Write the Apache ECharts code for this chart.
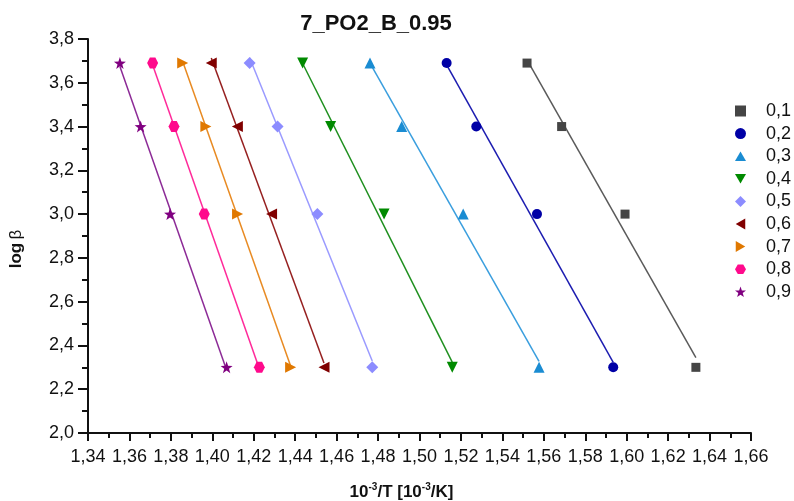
<!DOCTYPE html>
<html><head><meta charset="utf-8">
<script src="https://cdn.jsdelivr.net/npm/echarts@6/dist/echarts.min.js"></script>
<style>html,body{margin:0;padding:0;background:#fff}#c{width:794px;height:501px}</style>
</head><body><div id="c"></div>
<script>
const titleText = '7_PO2_B_0.95';
const seriesNames = ['0,1','0,2','0,3','0,4','0,5','0,6','0,7','0,8','0,9'];
const logBeta = [3.69, 3.40, 3.00, 2.30];
const x01 = [1.5519, 1.5686, 1.5992, 1.6334];
const x02 = [1.5131, 1.5274, 1.5567, 1.5935];
const x03 = [1.4761, 1.4914, 1.5211, 1.5577];
const x04 = [1.4436, 1.4571, 1.4829, 1.5158];
const x05 = [1.4180, 1.4315, 1.4507, 1.4772];
const x06 = [1.3995, 1.4121, 1.4286, 1.4539];
const x07 = [1.3857, 1.3969, 1.4122, 1.4378];
const x08 = [1.3712, 1.3815, 1.3961, 1.4227];
const x09 = [1.3554, 1.3654, 1.3796, 1.4069];
const xTicks = {min: 1.34, max: 1.66, interval: 0.02};
const yTicks = {min: 2.0, max: 3.8, interval: 0.2};

const allX = [x01,x02,x03,x04,x05,x06,x07,x08,x09];
const colors = ['#454545','#0000a6','#1a8cd2','#008a00','#8c8cff','#800000','#e07800','#ff0a8c','#800080'];
const lineColors = ['#5a5a5a','#1c1cb0','#3a9ede','#1f901f','#9a9aff','#962020','#e88a22','#ff2a9a','#8c2a96'];
const hexPath = 'path://M-5,-8.66 L5,-8.66 L10,0 L5,8.66 L-5,8.66 L-10,0 Z';
const starPath = 'path://M0,-10 L2.35,-3.24 L9.51,-3.09 L3.8,1.24 L5.88,8.09 L0,4 L-5.88,8.09 L-3.8,1.24 L-9.51,-3.09 L-2.35,-3.24 Z';
const triUp = 'path://M0,-8.66 L10,8.66 L-10,8.66 Z';
const triDown = 'path://M-10,-8.66 L10,-8.66 L0,8.66 Z';
const triLeft = 'path://M-8.66,0 L8.66,-10 L8.66,10 Z';
const triRight = 'path://M8.66,0 L-8.66,-10 L-8.66,10 Z';
const symbols = [
  {s:'rect', size:9},
  {s:'circle', size:10},
  {s:triUp, size:11},
  {s:triDown, size:11},
  {s:'diamond', size:12},
  {s:triLeft, size:11},
  {s:triRight, size:11},
  {s:hexPath, size:11},
  {s:starPath, size:12}
];

function fit(xs, ys){
  const n = xs.length;
  let sx=0, sy=0, sxx=0, sxy=0;
  for (let i=0;i<n;i++){ sx+=xs[i]; sy+=ys[i]; sxx+=xs[i]*xs[i]; sxy+=xs[i]*ys[i]; }
  const b = (n*sxy - sx*sy)/(n*sxx - sx*sx);
  const a = (sy - b*sx)/n;
  const x0 = Math.min(...xs), x1 = Math.max(...xs);
  return [[x0, a+b*x0],[x1, a+b*x1]];
}

const series = [];
allX.forEach((xs, i) => {
  series.push({
    type:'line', data: fit(xs, logBeta), symbol:'none', silent:true,
    lineStyle:{color: lineColors[i], width:1.5}, z:1
  });
});
allX.forEach((xs, i) => {
  series.push({
    name: seriesNames[i], type:'scatter',
    data: xs.map((x,k)=>[x, logBeta[k]]),
    symbol: symbols[i].s, symbolSize: symbols[i].size,
    itemStyle:{color: colors[i], opacity:1}, z:3
  });
});

const fmt = v => v.toFixed(2).replace('.', ',');
const fmtY = v => v.toFixed(1).replace('.', ',');
const font = "'Liberation Sans', Arial, sans-serif";

const chart = echarts.init(document.getElementById('c'), null, {renderer:'canvas'});
chart.setOption({
  animation:false,
  backgroundColor:'#fff',
  textStyle:{fontFamily: font},
  title:{text: titleText, left: 371, top: 8, textAlign:'center',
    textStyle:{fontFamily: font, fontWeight:'bold', fontSize:22, color:'#111'}},
  grid:{left:88, right:43, top:39, bottom:68, containLabel:false, outerBoundsMode:'none'},
  legend:{
    orient:'vertical', left:730, top:97, itemWidth:11, itemHeight:11, itemGap:4.6,
    data: seriesNames.map((n,i)=>({name:n, icon: symbols[i].s})),
    textStyle:{fontFamily: font, fontSize:18, color:'#111', padding:[0,0,0,15], lineHeight:16},
    selectedMode:false
  },
  xAxis:{
    type:'value', min:xTicks.min, max:xTicks.max, interval:xTicks.interval,
    name:'{b|10}{sup|-3}{b|/T [10}{sup|-3}{b|/K]}',
    nameLocation:'middle', nameGap:49,
    nameTextStyle:{padding:[0,36,0,0],
      rich:{ b:{fontFamily:font, fontWeight:'bold', fontSize:17, color:'#111', lineHeight:20},
             sup:{fontFamily:font, fontWeight:'bold', fontSize:10, color:'#111', lineHeight:20, verticalAlign:'top', padding:[0,0,7,0]} }},
    axisLine:{show:true, onZero:false, lineStyle:{color:'#111', width:2}},
    axisTick:{show:true, inside:false, length:8, lineStyle:{color:'#111', width:2}},
    minorTick:{show:true, splitNumber:2, length:5, lineStyle:{color:'#111', width:2}},
    splitLine:{show:false},
    axisLabel:{formatter: fmt, fontFamily:font, fontSize:18, color:'#111', margin:15}
  },
  yAxis:{
    type:'value', min:yTicks.min, max:yTicks.max, interval:yTicks.interval,
    name:'{b|log} {g|β}', nameLocation:'middle', nameGap:63,
    nameTextStyle:{padding:[0,26,0,0],
      rich:{ b:{fontFamily:font, fontWeight:'bold', fontSize:17, color:'#111'},
             g:{fontFamily:font, fontSize:17, color:'#111'} }},
    axisLine:{show:true, onZero:false, lineStyle:{color:'#111', width:2}},
    axisTick:{show:true, inside:false, length:10, lineStyle:{color:'#111', width:2}},
    minorTick:{show:true, splitNumber:2, length:6, lineStyle:{color:'#111', width:2}},
    splitLine:{show:false},
    axisLabel:{formatter: fmtY, fontFamily:font, fontSize:18, color:'#111', margin:14}
  },
  series: series
});
</script></body></html>
